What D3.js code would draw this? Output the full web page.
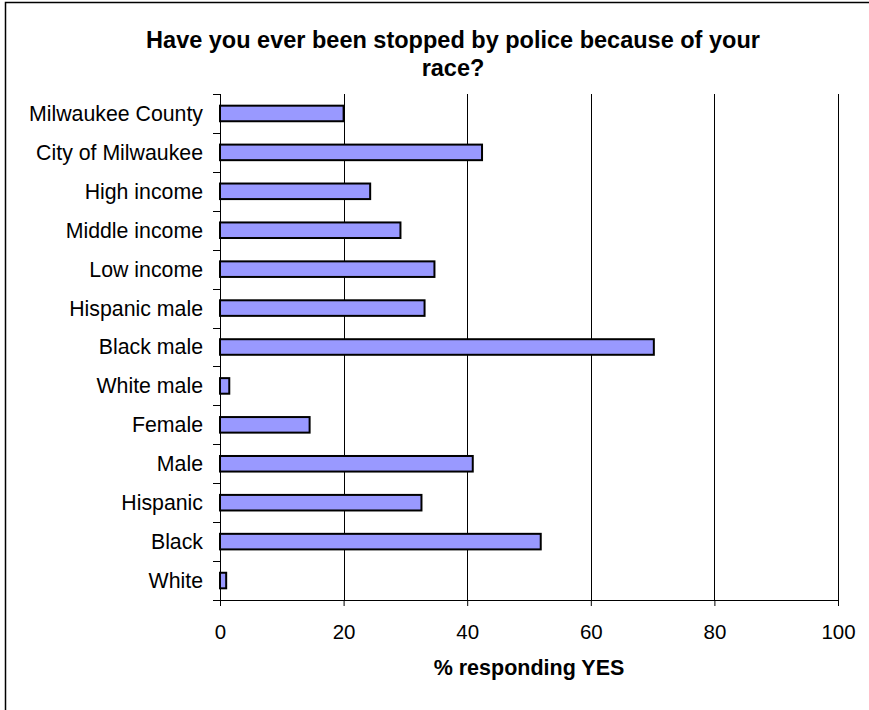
<!DOCTYPE html>
<html>
<head>
<meta charset="utf-8">
<script src="https://cdn.jsdelivr.net/npm/d3@7"></script>
<style>
body { margin: 0; background: #fff; }
text { font-family: "Liberation Sans", Arial, sans-serif; fill: #000; }
</style>
</head>
<body>
<div id="chart"></div>
<script>
// categories top to bottom
var categories = ["Milwaukee County", "City of Milwaukee", "High income", "Middle income",
    "Low income", "Hispanic male", "Black male", "White male", "Female", "Male",
    "Hispanic", "Black", "White"];
var values = [20.0, 42.4, 24.3, 29.2, 34.7, 33.1, 70.2, 1.5, 14.5, 40.9, 32.6, 51.9, 1.0];
var xTicks = [0, 20, 40, 60, 80, 100];
var titleLines = ["Have you ever been stopped by police because of your", "race?"];
var xTitle = "% responding YES";

var W = 869, H = 710;
var pLeft = 220, pRight = 838, pTop = 94, pBottom = 600;

var svg = d3.select("#chart").append("svg")
    .attr("width", W).attr("height", H);

// outer frame
svg.append("rect")
    .attr("x", 5.5).attr("y", 2.5)
    .attr("width", W + 10).attr("height", H + 10)
    .attr("fill", "none").attr("stroke", "#000").attr("stroke-width", 1.5);

var x = d3.scaleLinear().domain([0, 100]).range([pLeft, pRight]);
var y = d3.scaleBand().domain(categories).range([pTop, pBottom]).padding(0);
var step = y.step();
var barH = step * 0.4;

// gridlines
svg.selectAll("line.grid")
    .data(xTicks.slice(1))
    .enter()
    .append("line")
    .attr("class", "grid")
    .attr("x1", function (d) { return Math.round(x(d)) + 0.5; })
    .attr("x2", function (d) { return Math.round(x(d)) + 0.5; })
    .attr("y1", pTop).attr("y2", pBottom)
    .attr("stroke", "#000").attr("stroke-width", 1);

// bars
svg.selectAll("rect.bar")
    .data(values)
    .enter()
    .append("rect")
    .attr("class", "bar")
    .attr("x", x(0))
    .attr("y", function (d, i) { return y(categories[i]) + (step - barH) / 2; })
    .attr("width", function (d) { return x(d) - x(0); })
    .attr("height", barH)
    .attr("fill", "#9999ff")
    .attr("stroke", "#000").attr("stroke-width", 2);

// y axis: line and ticks at category boundaries
var bounds = d3.range(categories.length + 1).map(function (i) { return pTop + i * step; });
svg.append("line")
    .attr("x1", pLeft + 0.5).attr("x2", pLeft + 0.5)
    .attr("y1", pTop).attr("y2", pBottom)
    .attr("stroke", "#000");
svg.selectAll("line.ytick")
    .data(bounds)
    .enter()
    .append("line")
    .attr("class", "ytick")
    .attr("x1", pLeft - 7).attr("x2", pLeft)
    .attr("y1", function (d) { return Math.round(d) + 0.5; })
    .attr("y2", function (d) { return Math.round(d) + 0.5; })
    .attr("stroke", "#000");

svg.selectAll("text.ylab")
    .data(categories)
    .enter()
    .append("text")
    .attr("class", "ylab")
    .attr("x", 203)
    .attr("y", function (d) { return y(d) + step / 2; })
    .attr("dy", "0.35em")
    .attr("text-anchor", "end")
    .attr("font-size", "21.3px")
    .text(function (d) { return d; });

// x axis
var xAxis = svg.append("g")
    .attr("transform", "translate(0," + pBottom + ")")
    .call(d3.axisBottom(x).tickValues(xTicks).tickSize(6).tickSizeOuter(0));
xAxis.select(".domain").remove();
xAxis.append("line")
    .attr("x1", pLeft - 7).attr("x2", pRight)
    .attr("y1", 0.5).attr("y2", 0.5)
    .attr("stroke", "#000");
xAxis.selectAll(".tick line").attr("stroke", "#000");
xAxis.selectAll(".tick text")
    .attr("y", 24)
    .attr("font-family", "Liberation Sans, Arial, sans-serif")
    .attr("font-size", "20.5px")
    .attr("fill", "#000");

svg.append("text")
    .attr("x", (pLeft + pRight) / 2)
    .attr("y", 675)
    .attr("text-anchor", "middle")
    .attr("font-size", "21.5px")
    .attr("font-weight", "bold")
    .text(xTitle);

// title
svg.selectAll("text.title")
    .data(titleLines)
    .enter()
    .append("text")
    .attr("class", "title")
    .attr("x", 453)
    .attr("y", function (d, i) { return 48 + i * 28; })
    .attr("text-anchor", "middle")
    .attr("font-size", "23.5px")
    .attr("font-weight", "bold")
    .text(function (d) { return d; });
</script>
</body>
</html>
